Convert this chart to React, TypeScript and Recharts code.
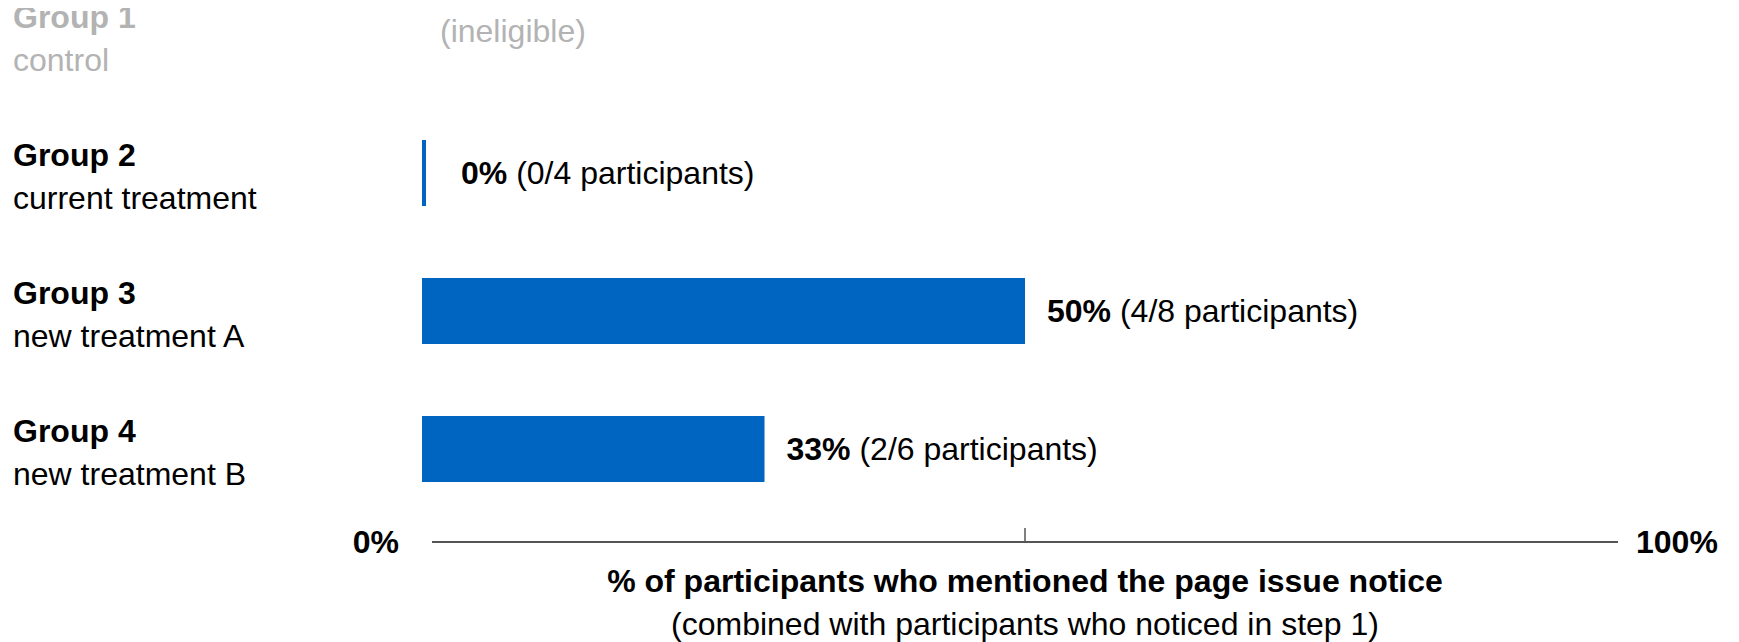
import React from "react";
import { BarChart, Bar, XAxis, YAxis, LabelList, Label } from "recharts";

const groups = ["Group 1", "Group 2", "Group 3", "Group 4"];
const treatments = ["control", "current treatment", "new treatment A", "new treatment B"];
const eligible = [false, true, true, true];
// bar lengths as drawn in the reference (group 4's bar is drawn shorter than its label)
const barLength = [null, 0, 50, 28.4];
// percentages printed next to the bars
const mentionedPct = [null, 0, 50, 33];
const mentionedCount = [null, 0, 4, 2];
const participantTotal = [null, 4, 8, 6];
const xTicks = [0, 50, 100];

const axisTitle = "% of participants who mentioned the page issue notice";
const axisSubtitle = "(combined with participants who noticed in step 1)";

const rows = groups.map((g, i) => ({
  group: g,
  treatment: treatments[i],
  eligible: eligible[i],
  bar: barLength[i],
  pct: mentionedPct[i],
  count: mentionedCount[i],
  total: participantTotal[i],
}));

const W = 1723;
const H = 642;
const LEFT = 414;
const RIGHT = 103;
const PLOT_W = W - LEFT - RIGHT;

const FONT = "'Liberation Sans', Arial, Helvetica, sans-serif";
const BLUE = "#0064c1";
const GREY = "#b3b3b3";
const INK = "#000";
const AXIS = "#555";
const FS = 32;

function GroupTick(props: any) {
  const { y, index } = props;
  const row = rows[index];
  const color = row.eligible ? INK : GREY;
  return (
    <g>
      <text x={5} y={y - 18} dy="0.35em" fontFamily={FONT} fontSize={FS} fontWeight={700} fill={color}>
        {row.group}
      </text>
      <text x={5} y={y + 25} dy="0.35em" fontFamily={FONT} fontSize={FS} fill={color}>
        {row.treatment}
      </text>
      {!row.eligible && (
        <text x={LEFT + 18} y={y - 4} dy="0.35em" fontFamily={FONT} fontSize={FS} fill={GREY}>
          (ineligible)
        </text>
      )}
    </g>
  );
}

function PctTick(props: any) {
  const { x, y, payload } = props;
  const v = payload.value;
  if (v === 0) {
    return (
      <g>
        <line x1={x + 10} x2={x + PLOT_W - 10} y1={y} y2={y} stroke={AXIS} strokeWidth={2} />
        <text x={x - 23} y={y} dy="0.35em" textAnchor="end" fontFamily={FONT} fontSize={FS} fontWeight={700} fill={INK}>
          0%
        </text>
      </g>
    );
  }
  if (v === 100) {
    return (
      <text x={x + 8} y={y} dy="0.35em" fontFamily={FONT} fontSize={FS} fontWeight={700} fill={INK}>
        100%
      </text>
    );
  }
  return <line x1={x} x2={x} y1={y - 14} y2={y} stroke={AXIS} strokeWidth={1.5} />;
}

function ValueLabel(props: any) {
  const { x, y, width, height, value } = props;
  const row = rows.find((r) => r.group === value);
  if (!row || row.pct == null) return null;
  const gap = row.pct === 0 ? 35 : 22;
  return (
    <text x={x + width + gap} y={y + height / 2} dy="0.35em" fontFamily={FONT} fontSize={FS} fill={INK}>
      <tspan fontWeight={700}>{row.pct}%</tspan>
      <tspan>{` (${row.count}/${row.total} participants)`}</tspan>
    </text>
  );
}

function AxisTitle(props: any) {
  const { viewBox } = props;
  const cx = viewBox.x + viewBox.width / 2;
  const top = viewBox.y;
  return (
    <g>
      <text x={cx} y={top + 39} dy="0.35em" textAnchor="middle" fontFamily={FONT} fontSize={FS} fontWeight={700} fill={INK}>
        {axisTitle}
      </text>
      <text x={cx} y={top + 82} dy="0.35em" textAnchor="middle" fontFamily={FONT} fontSize={FS} fill={INK}>
        {axisSubtitle}
      </text>
    </g>
  );
}

export default function App() {
  return (
    <div style={{ width: W, height: H, marginTop: -8 }}>
      <BarChart
        width={W}
        height={H}
        data={rows}
        layout="vertical"
        margin={{ top: -34, right: RIGHT, bottom: 0, left: 0 }}
      >
        <XAxis
          type="number"
          domain={[0, 100]}
          ticks={xTicks}
          axisLine={false}
          tickLine={false}
          tickSize={0}
          tickMargin={0}
          height={100}
          tick={<PctTick />}
          interval={0}
        >
          <Label content={<AxisTitle />} />
        </XAxis>
        <YAxis
          type="category"
          dataKey="group"
          width={LEFT}
          axisLine={false}
          tickLine={false}
          padding={{ top: 0, bottom: 24 }}
          tick={<GroupTick />}
          interval={0}
        />
        <Bar
          dataKey="bar"
          fill={BLUE}
          barSize={66}
          minPointSize={(v: any) => (v === 0 ? 4 : 0)}
          isAnimationActive={false}
        >
          <LabelList dataKey="group" content={<ValueLabel />} />
        </Bar>
      </BarChart>
    </div>
  );
}
